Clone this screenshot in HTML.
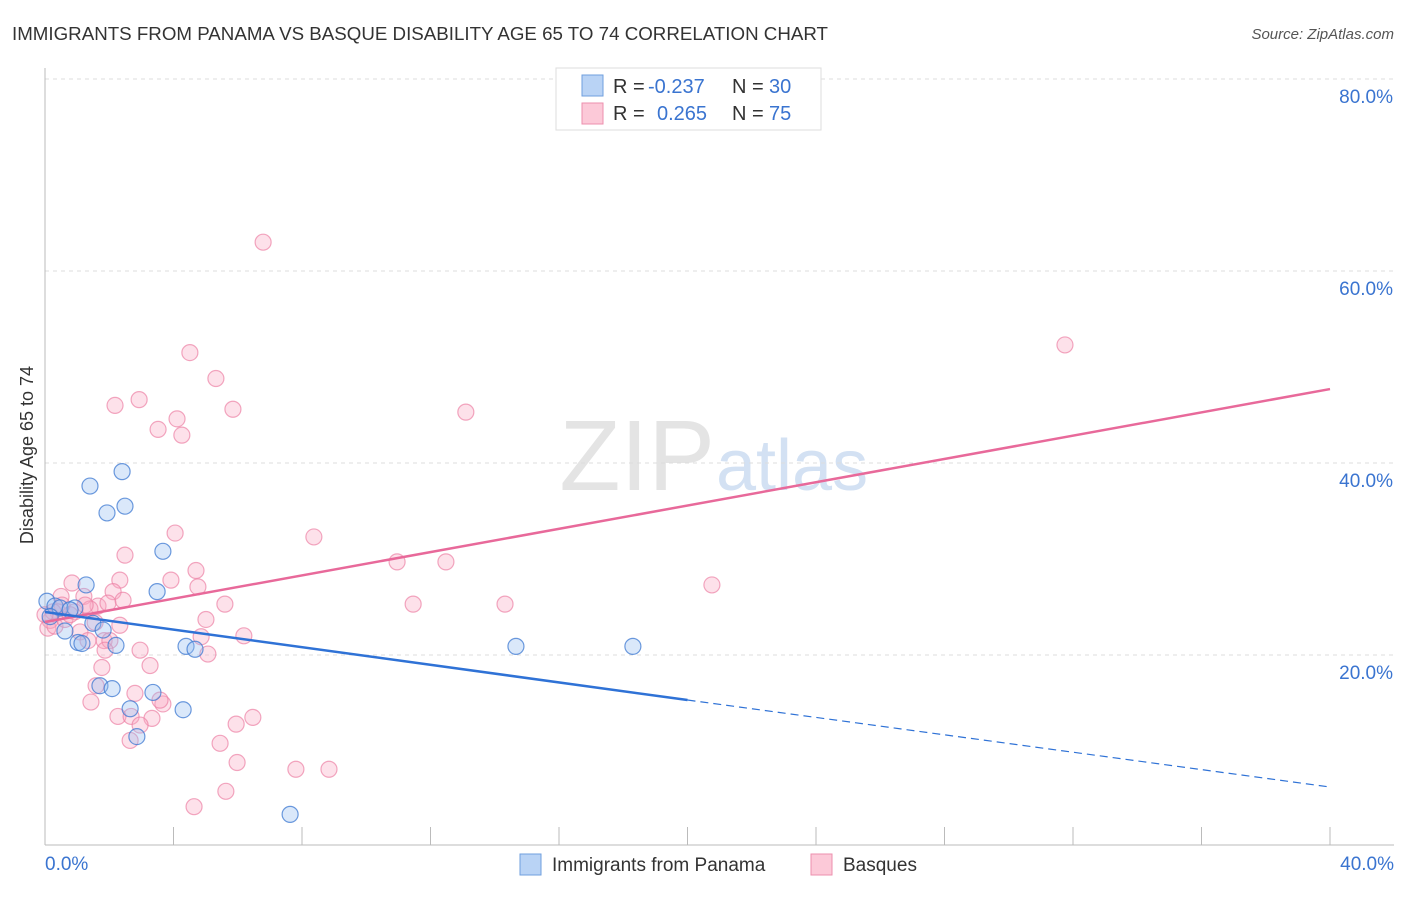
<!DOCTYPE html>
<html><head><meta charset="utf-8"><style>
body{margin:0;background:#fff;font-family:"Liberation Sans",sans-serif}
svg text{font-family:"Liberation Sans",sans-serif}
</style></head><body>
<svg id="c" width="1406" height="892" viewBox="0 0 1406 892">
<text x="12" y="40" font-size="18.5" fill="#333" textLength="816" lengthAdjust="spacingAndGlyphs">IMMIGRANTS FROM PANAMA VS BASQUE DISABILITY AGE 65 TO 74 CORRELATION CHART</text>
<text x="1394" y="39" font-size="15" fill="#555" font-style="italic" text-anchor="end">Source: ZipAtlas.com</text>
<text x="715" y="490" font-size="100" fill="#e4e4e4" text-anchor="end" font-family="Liberation Serif">ZIP</text>
<text x="716" y="490" font-size="72" fill="#d3e1f3">atlas</text>
<g id="grid"></g>
<line x1="45" y1="68" x2="45" y2="845" stroke="#bbb"/>
<line x1="45" y1="845" x2="1394" y2="845" stroke="#bbb"/>
<g id="xt"></g>
<text x="33" y="455" font-size="18" fill="#333" text-anchor="middle" transform="rotate(-90 33 455)">Disability Age 65 to 74</text>
<g id="pts"></g>
<g id="lines"></g>
<g>
<rect x="556" y="68" width="265" height="62" fill="#fff" stroke="#ddd"/>
<rect x="582" y="75" width="21" height="21" fill="#b9d3f5" stroke="#6f9fde"/>
<rect x="582" y="103" width="21" height="21" fill="#fcc9d8" stroke="#ec8fae"/>
<text x="613" y="93" font-size="20" fill="#333">R =</text>
<text x="648" y="93" font-size="20" fill="#3a74d0">-0.237</text>
<text x="732" y="93" font-size="20" fill="#333">N =</text>
<text x="769" y="93" font-size="20" fill="#3a74d0">30</text>
<text x="613" y="120" font-size="20" fill="#333">R =</text>
<text x="657" y="120" font-size="20" fill="#3a74d0">0.265</text>
<text x="732" y="120" font-size="20" fill="#333">N =</text>
<text x="769" y="120" font-size="20" fill="#3a74d0">75</text>
</g>
<g>
<rect x="520" y="854" width="21" height="21" fill="#b9d3f5" stroke="#6f9fde"/>
<text x="552" y="871" font-size="19" fill="#333">Immigrants from Panama</text>
<rect x="811" y="854" width="21" height="21" fill="#fcc9d8" stroke="#ec8fae"/>
<text x="843" y="871" font-size="19" fill="#333">Basques</text>
</g>
</svg>
<script>
const yTicks=[20,40,60,80];
const yTickLabels=["20.0%","40.0%","60.0%","80.0%"];
const xTicks=[0,4,8,12,16,20,24,28,32,36,40];
const xTickLabels=["0.0%","40.0%"];
const panamaX=[0.06,0.31,0.47,0.62,0.93,1.03,1.15,1.28,1.40,1.49,1.81,1.93,2.21,1.71,2.09,2.40,2.49,2.65,2.86,3.36,3.49,3.67,4.30,4.39,4.67,14.66,18.30,7.63,0.78,0.16];
const panamaY=[25.6,25.1,24.9,22.5,24.9,21.3,21.2,27.3,37.6,23.3,22.6,34.8,21.0,16.8,16.5,39.1,35.5,14.4,11.5,16.1,26.6,30.8,14.3,20.9,20.6,20.9,20.9,3.4,24.7,24.0];
const basqueX=[6.79,31.75,4.51,5.32,2.93,2.18,5.85,4.11,4.26,3.52,13.10,8.37,4.05,2.49,10.96,12.48,20.76,4.70,3.92,2.33,4.76,0.84,2.12,0.50,1.21,1.65,1.96,2.43,1.40,5.60,11.46,14.32,5.01,0.40,0.16,0.09,0.31,0.62,0.93,1.09,1.34,1.56,1.84,6.19,4.86,5.07,3.27,1.77,1.59,1.43,2.80,2.27,2.68,3.33,3.67,6.47,5.95,2.96,2.65,5.45,5.98,7.81,8.84,4.64,5.63,0.53,0.78,1.25,0.25,2.02,2.33,2.96,3.58,0.00,1.87];
const basqueY=[63.0,52.3,51.5,48.8,46.6,46.0,45.6,44.6,42.9,43.5,45.3,32.3,32.7,30.4,29.7,29.7,27.3,28.8,27.8,27.8,27.1,27.5,26.6,26.1,26.1,25.1,25.4,25.7,24.8,25.3,25.3,25.3,23.7,24.5,23.6,22.8,23.0,23.7,24.5,22.4,21.5,23.4,21.5,22.0,21.9,20.1,18.9,18.7,16.8,15.1,16.0,13.6,13.6,13.4,14.9,13.5,12.8,12.7,11.1,10.8,8.8,8.1,8.1,4.2,5.8,25.2,24.2,25.2,24.5,21.5,23.1,20.5,15.3,24.2,20.5];
const panamaFit=[24.48,15.31,6.25];
const basqueFit=[23.44,47.7];
const X=v=>45+v/40*1285, Y=v=>847-v/20*192;
const NS="http://www.w3.org/2000/svg";
function mk(tag,attrs,parent){const e=document.createElementNS(NS,tag);for(const k in attrs)e.setAttribute(k,attrs[k]);parent.appendChild(e);return e;}
const grid=document.getElementById('grid');
yTicks.forEach((t,i)=>{
 const l=mk('line',{x1:45,x2:1394,y1:Y(t),y2:Y(t),stroke:'#ddd','stroke-dasharray':'4,4'},grid);
 
 
 const tx=mk('text',{x:1393,y:Y(t)+24,'font-size':19,fill:'#3a74d0','text-anchor':'end'},grid);
 tx.textContent=yTickLabels[i];
 
 
});
const xt=document.getElementById('xt');
xTicks.forEach(t=>{
 const l=mk('line',{x1:X(t),x2:X(t),y1:827,y2:845,stroke:'#bbb'},xt);
 
 
});
[[0,'start',45],[40,'end',1394]].forEach((d,i)=>{
 const tx=mk('text',{x:d[2],y:870,'font-size':19,fill:'#3a74d0','text-anchor':d[1]},xt);
 tx.textContent=xTickLabels[i];
 
 
});
const pts=document.getElementById('pts');
basqueX.forEach((x,i)=>{
 const c=mk('circle',{cx:X(x),cy:Y(basqueY[i]),r:8,fill:'rgba(248,170,195,0.35)',stroke:'rgba(236,130,165,0.7)','stroke-width':1.2},pts);
 
 
});
panamaX.forEach((x,i)=>{
 const c=mk('circle',{cx:X(x),cy:Y(panamaY[i]),r:8,fill:'rgba(150,190,240,0.35)',stroke:'rgba(60,120,210,0.75)','stroke-width':1.2},pts);
 
 
});
const lines=document.getElementById('lines');
const pl=mk('line',{x1:X(0),y1:Y(basqueFit[0]),x2:X(40),y2:Y(basqueFit[1]),stroke:'#e8699a','stroke-width':2.5},lines);


const bl=mk('line',{x1:X(0),y1:Y(panamaFit[0]),x2:X(20),y2:Y(panamaFit[1]),stroke:'#2f72d6','stroke-width':2.5},lines);


const bd=mk('line',{x1:X(20),y1:Y(panamaFit[1]),x2:X(40),y2:Y(panamaFit[2]),stroke:'#2f72d6','stroke-width':1.2,'stroke-dasharray':'8,5'},lines);


</script>
</body></html>
